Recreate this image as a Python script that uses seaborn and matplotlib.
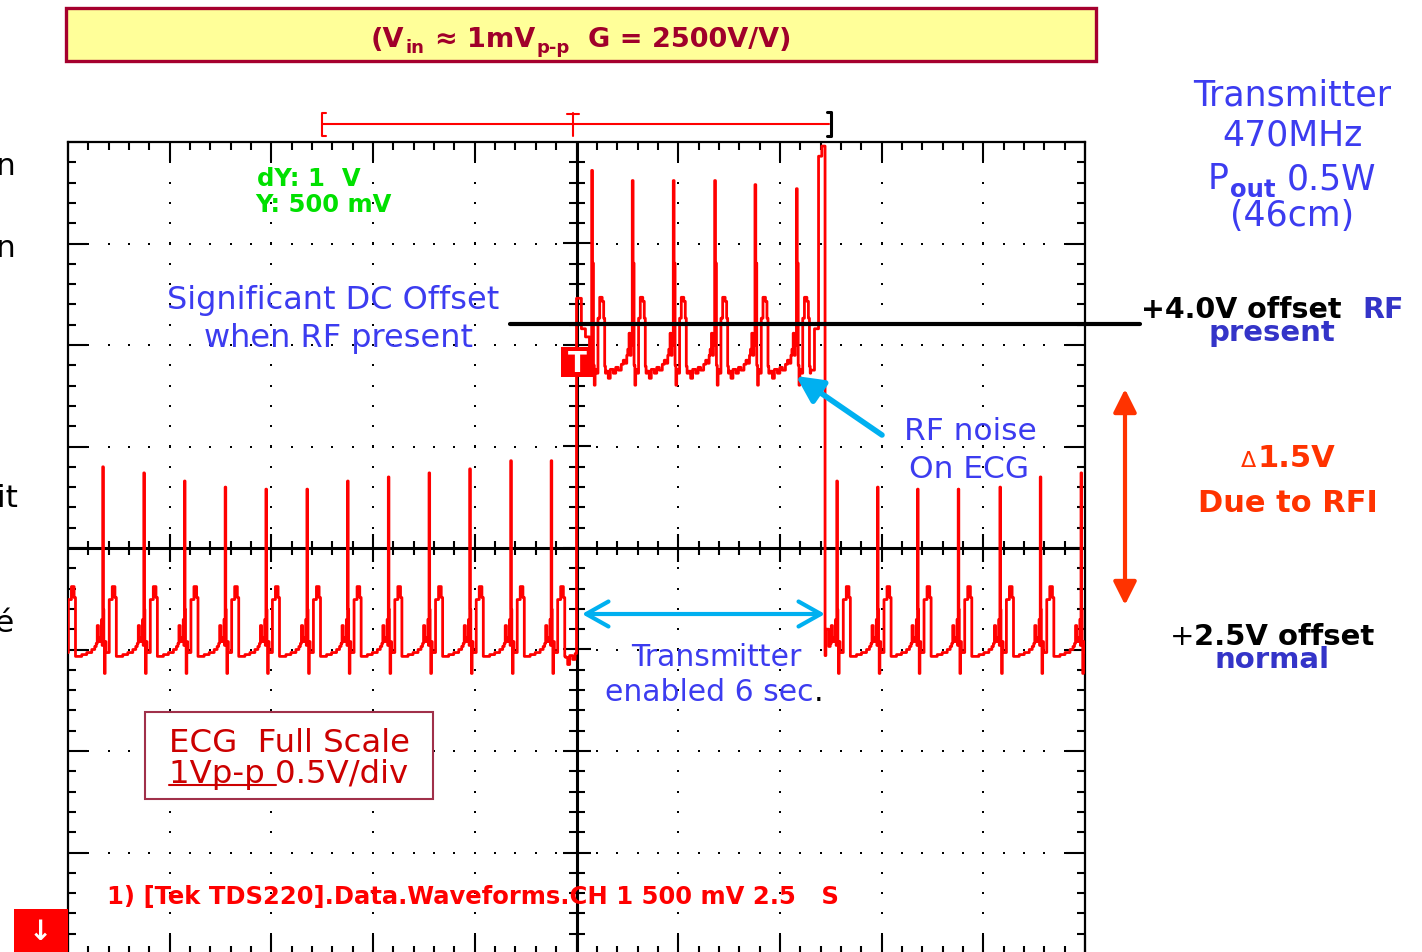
import matplotlib
matplotlib.use('Agg')
import matplotlib.pyplot as plt
from matplotlib.patches import Rectangle, FancyArrowPatch
from matplotlib.lines import Line2D
import numpy as np
import pandas as pd
import seaborn as sns

# ---------------- data ----------------
# R-peak times (s, 2.5 s/div) and R-peak heights above the local baseline (V)
beat_times = [-0.15, 0.854, 1.863, 2.862, 3.863, 4.865, 5.873, 6.872, 7.874, 8.875, 9.875,
              10.883, 11.877,
              12.873, 13.871, 14.879, 15.896, 16.887, 17.906,
              18.898, 19.899, 20.883, 21.883, 22.908, 23.900, 24.902]
beat_amps = [0.90, 0.90, 0.87, 0.83, 0.80, 0.79, 0.79, 0.83, 0.85, 0.87, 0.89,
             0.93, 0.93,
             0.95, 0.90, 0.90, 0.90, 0.88, 0.86,
             0.83, 0.80, 0.79, 0.79, 0.80, 0.85, 0.87]

# baseline levels (V) and transmitter window (s)
normal_level = 2.50
rf_level = 3.91
rf_on = 12.50
rf_off = 18.61

# one normal heartbeat as seen on the scope (offset from R peak in s, V above baseline; nan = R peak)
normal_dt = [-0.640, -0.516, -0.393, -0.270, -0.197, -0.160, -0.135, -0.106, -0.054, -0.029, -0.015,
             0.0, 0.015, 0.027, 0.042, 0.059, 0.079, 0.160, 0.234, 0.300, 0.334]
normal_dv = [-0.034, -0.025, -0.015, 0.0, 0.015, 0.030, 0.118, 0.039, 0.059, 0.148, 0.020,
             np.nan, 0.197, 0.030, -0.118, 0.039, -0.015, 0.246, 0.310, 0.256, -0.034]

# one heartbeat with RF present (noisier)
rf_dt = [-0.640, -0.590, -0.541, -0.467, -0.406, -0.344, -0.270, -0.221, -0.172, -0.135, -0.111,
         -0.079, -0.054, -0.029, 0.0, 0.020, 0.044, 0.064, 0.084, 0.128, 0.155, 0.197, 0.258,
         0.295, 0.320, 0.339]
rf_dv = [-0.039, -0.074, -0.030, -0.049, -0.020, -0.034, -0.005, 0.015, 0.0, 0.039, 0.069,
         0.148, 0.039, 0.089, np.nan, 0.493, -0.010, -0.108, -0.030, -0.049, 0.222, 0.325, 0.305,
         0.222, -0.015, -0.049]

# switching transients (absolute V)
on_art_t = [12.50, 12.62, 12.72]
on_art_v = [4.23, 4.08, 4.04]
on_art_end = 12.80
off_art_t = [18.35, 18.45, 18.53, 18.61, 18.63]
off_art_v = [4.08, 4.93, 4.98, 2.47, 2.60]
off_art_end = 18.66

# ---------------- build trace ----------------
ts, vs = [], []
for bt, amp in zip(beat_times, beat_amps):
    in_rf = rf_on <= bt < rf_off
    dts = rf_dt if in_rf else normal_dt
    dvs = rf_dv if in_rf else normal_dv
    for d, v in zip(dts, dvs):
        t = bt + d
        if np.isnan(v):
            v = amp
        base = rf_level if rf_on <= t < rf_off else normal_level
        if on_art_t[0] <= t < on_art_end or off_art_t[0] <= t < off_art_end:
            continue
        ts.append(t)
        vs.append(base + v)
ts += on_art_t + off_art_t
vs += on_art_v + off_art_v
df = pd.DataFrame({'t': ts, 'v': vs}).sort_values('t').reset_index(drop=True)

# ---------------- figure ----------------
sns.set_style('white')
plt.rcParams['font.family'] = ['DejaVu Sans']
plt.rcParams['mathtext.fontset'] = 'dejavusans'

W, H = 1422, 953
fig = plt.figure(figsize=(W / 100, H / 100), dpi=100)
fig.patch.set_facecolor('white')
renderer = fig.canvas.get_renderer()

ax = fig.add_axes([68 / W, (H - 955) / H, 1017 / W, 812 / H])
ax.set_facecolor('white')
ax.set_xlim(0, 25)
ax.set_ylim(1.0, 5.0)
for sp in ax.spines.values():
    sp.set_visible(True)
    sp.set_color('black')
    sp.set_linewidth(1.6)
ax.set_xticks(np.arange(0, 25.01, 2.5))
ax.set_xticks(np.arange(0, 25.01, 0.5), minor=True)
ax.set_yticks(np.arange(1.0, 5.01, 0.5))
ax.set_yticks(np.arange(1.0, 5.01, 0.1), minor=True)
ax.tick_params(which='major', direction='in', length=14, width=1.5, color='black',
               top=True, right=True, bottom=True, left=True,
               labelbottom=False, labelleft=False, labeltop=False, labelright=False)
ax.tick_params(which='minor', direction='in', length=5.8, width=1.5, color='black',
               top=True, right=True, bottom=True, left=True)
ax.grid(False)

hpx = 25 / 1017
vpx = 4 / 812

# center cross with ticks
ax.axhline(3.0, color='black', lw=2.2, zorder=2)
ax.axvline(12.5, color='black', lw=2.2, zorder=2)
tt = np.arange(0.5, 25.0, 0.5)
tmaj = (np.round(tt / 0.5) % 5 == 0)
tl = np.where(tmaj, 14, 7) * vpx
ax.vlines(tt, 3.0 - tl, 3.0 + tl, color='black', lw=1.5, zorder=2)
yy = np.arange(1.1, 4.95, 0.1)
ymaj = (np.round(yy / 0.1) % 5 == 0)
yl = np.where(ymaj, 14, 8) * hpx
ax.hlines(yy, 12.5 - yl, 12.5 + yl, color='black', lw=1.5, zorder=2)

# dotted graticule
rows = [1.5, 2.0, 2.5, 3.5, 4.0, 4.5]
cols = [2.5, 5.0, 7.5, 10.0, 15.0, 17.5, 20.0, 22.5]
dx_, dy_ = [], []
for r in rows:
    for x in np.arange(0.5, 25.0, 0.5):
        dx_.append(x); dy_.append(r)
for c in cols:
    for y in np.arange(1.1, 4.95, 0.1):
        dx_.append(c); dy_.append(y)
ax.plot(dx_, dy_, ls='none', marker='s', ms=2.0, color='black', mew=0, zorder=2)

# ECG trace
sns.lineplot(data=df, x='t', y='v', ax=ax, estimator=None, sort=False, color='#FF0000',
             lw=2.0, drawstyle='steps-post', zorder=4)
ax.set_xlabel('')
ax.set_ylabel('')
ax.set_xlim(0, 25)
ax.set_ylim(1.0, 5.0)


# ---------------- figure-pixel helpers ----------------
def P(x, y):
    return (x / W, 1 - y / H)


def fline(xs, ys, **kw):
    fig.add_artist(Line2D([x / W for x in xs], [1 - y / H for y in ys],
                          transform=fig.transFigure, **kw))


def frect(x0, y0, x1, y1, **kw):
    fig.add_artist(Rectangle((x0 / W, 1 - y1 / H), (x1 - x0) / W, (y1 - y0) / H,
                             transform=fig.transFigure, **kw))


def ftext(x, y, s, **kw):
    kw.setdefault('va', 'baseline')
    return fig.text(x / W, 1 - y / H, s, **kw)


def farrow(p0, p1, style, **kw):
    fig.add_artist(FancyArrowPatch(P(*p0), P(*p1), transform=fig.transFigure,
                                   arrowstyle=style, shrinkA=0, shrinkB=0, **kw))


def runs(x, y, parts, ha='left'):
    arts, widths = [], []
    for s, size, weight, color, dy, gap in parts:
        t = fig.text(0, 0, s, fontsize=size, fontweight=weight, color=color,
                     va='baseline', ha='left')
        widths.append(t.get_window_extent(renderer).width)
        arts.append(t)
    total = sum(widths) + sum(p[5] for p in parts)
    x0 = x - total / 2 if ha == 'center' else (x - total if ha == 'right' else x)
    cx = x0
    for p, t, w in zip(parts, arts, widths):
        cx += p[5]
        t.set_position(P(cx, y + p[4]))
        cx += w


BLUE = '#3C3CF0'
DBLUE = '#3434C8'
DRED = '#A0002A'
ORANGE = '#FF3300'
CYAN = '#00B0F0'

# title box
frect(66, 9, 1096, 62, facecolor='#FFFF99', edgecolor='#A5002E', lw=2.4)
runs(581, 47, [("(V", 19.5, 'bold', DRED, 0, 0), ("in", 13, 'bold', DRED, 6, 1),
               ("≈", 19.5, 'bold', DRED, 0, 10), ("1mV", 19.5, 'bold', DRED, 0, 10),
               ("p-p", 13, 'bold', DRED, 6, 1), ("G = 2500V/V)", 19.5, 'bold', DRED, 0, 18)],
     ha='center')

# record-window bracket above scope
fline([322, 829], [125, 125], color='#FF0000', lw=1.5)
fline([326, 322, 322, 326], [114, 114, 137, 137], color='#FF0000', lw=1.5)
fline([573, 573], [114, 137], color='#FF0000', lw=1.5)
fline([567, 579], [115, 115], color='#FF0000', lw=1.5)
fline([827, 831, 831, 827], [113, 113, 137, 137], color='black', lw=2.2)

# scope readouts
ftext(257, 186, "dY: 1  V", fontsize=17.5, fontweight='bold', color='#00E000')
ftext(255, 212, "Y: 500 mV", fontsize=17.5, fontweight='bold', color='#00E000')
ftext(107, 904, "1) [Tek TDS220].Data.Waveforms.CH 1 500 mV 2.5   S", fontsize=17.5,
      fontweight='bold', color='#FF0000')
frect(14, 910, 68, 960, facecolor='#FF0000', edgecolor='none')
ftext(40, 932, "↓", fontsize=20, fontweight='bold', color='white', ha='center', va='center')

# trigger marker
frect(561, 348, 594, 378, facecolor='#FF0000', edgecolor='none')
ftext(577, 364, "T", fontsize=20, fontweight='bold', color='white', ha='center', va='center')

# left-edge cropped words
for xx, yy_, s in [(15, 175, "n"), (15, 257, "n"), (18, 507, "it"), (13, 632, "é")]:
    ftext(xx, yy_, s, fontsize=22.5, color='black', ha='right')

# DC offset annotation
ftext(333, 309, "Significant DC Offset", fontsize=23, color=BLUE, ha='center')
ftext(339, 347, "when RF present", fontsize=23, color=BLUE, ha='center')
fline([510, 1140], [325, 325], color='black', lw=3.0)
ftext(1141, 318, "+4.0V offset", fontsize=20.5, fontweight='bold', color='black', ha='left')
ftext(1404, 318, "RF", fontsize=20.5, fontweight='bold', color=DBLUE, ha='right')
ftext(1272, 341, "present", fontsize=21, fontweight='bold', color=DBLUE, ha='center')

# transmitter info
ftext(1292, 106, "Transmitter", fontsize=25, color=BLUE, ha='center')
ftext(1292, 146, "470MHz", fontsize=25, color=BLUE, ha='center')
runs(1292, 189, [("P", 25, 'normal', BLUE, 0, 0), ("out", 17.5, 'bold', BLUE, 8, 1),
                 ("0.5W", 25, 'normal', BLUE, 0, 11)], ha='center')
ftext(1292, 226, "(46cm)", fontsize=25, color=BLUE, ha='center')

# RF noise
ftext(970, 440, "RF noise", fontsize=22.5, color=BLUE, ha='center')
ftext(969, 478, "On ECG", fontsize=22.5, color=BLUE, ha='center')
farrow((882, 436), (796, 377), '-|>,head_length=16,head_width=8', color=CYAN, lw=4,
       mutation_scale=1)

# delta annotation
farrow((1125, 390), (1125, 606), '<|-|>,head_length=14,head_width=7', color=ORANGE, lw=3,
       mutation_scale=1)
runs(1288, 467, [("Δ", 16, 'normal', ORANGE, 0, 0), ("1.5V", 22, 'bold', ORANGE, 0, 1)],
     ha='center')
ftext(1288, 512, "Due to RFI", fontsize=22, fontweight='bold', color=ORANGE, ha='center')
runs(1272, 645, [("+", 21, 'normal', 'black', 0, 0), ("2.5V offset", 21, 'bold', 'black', 0, 0)],
     ha='center')
ftext(1272, 668, "normal", fontsize=21, fontweight='bold', color=DBLUE, ha='center')

# transmitter enabled
farrow((582, 615), (825, 615), '<->,head_length=16,head_width=9', color=CYAN, lw=3,
       mutation_scale=1)
ftext(716, 666, "Transmitter", fontsize=21.5, color=BLUE, ha='center')
runs(714, 701, [("enabled 6 sec", 21.5, 'normal', BLUE, 0, 0),
                (".", 21.5, 'normal', 'black', 0, 0)], ha='center')

# ECG full-scale box
frect(145, 713, 433, 800, facecolor='white', edgecolor='#A0304A', lw=1.5)
ftext(169, 752, "ECG  Full Scale", fontsize=23.3, color='#CC0000', ha='left')
ftext(169, 783, "1Vp-p 0.5V/div", fontsize=23.3, color='#CC0000', ha='left')
fline([169, 276], [786, 786], color='#CC0000', lw=1.5)

fig.savefig('out.png', dpi=100, facecolor='white')
